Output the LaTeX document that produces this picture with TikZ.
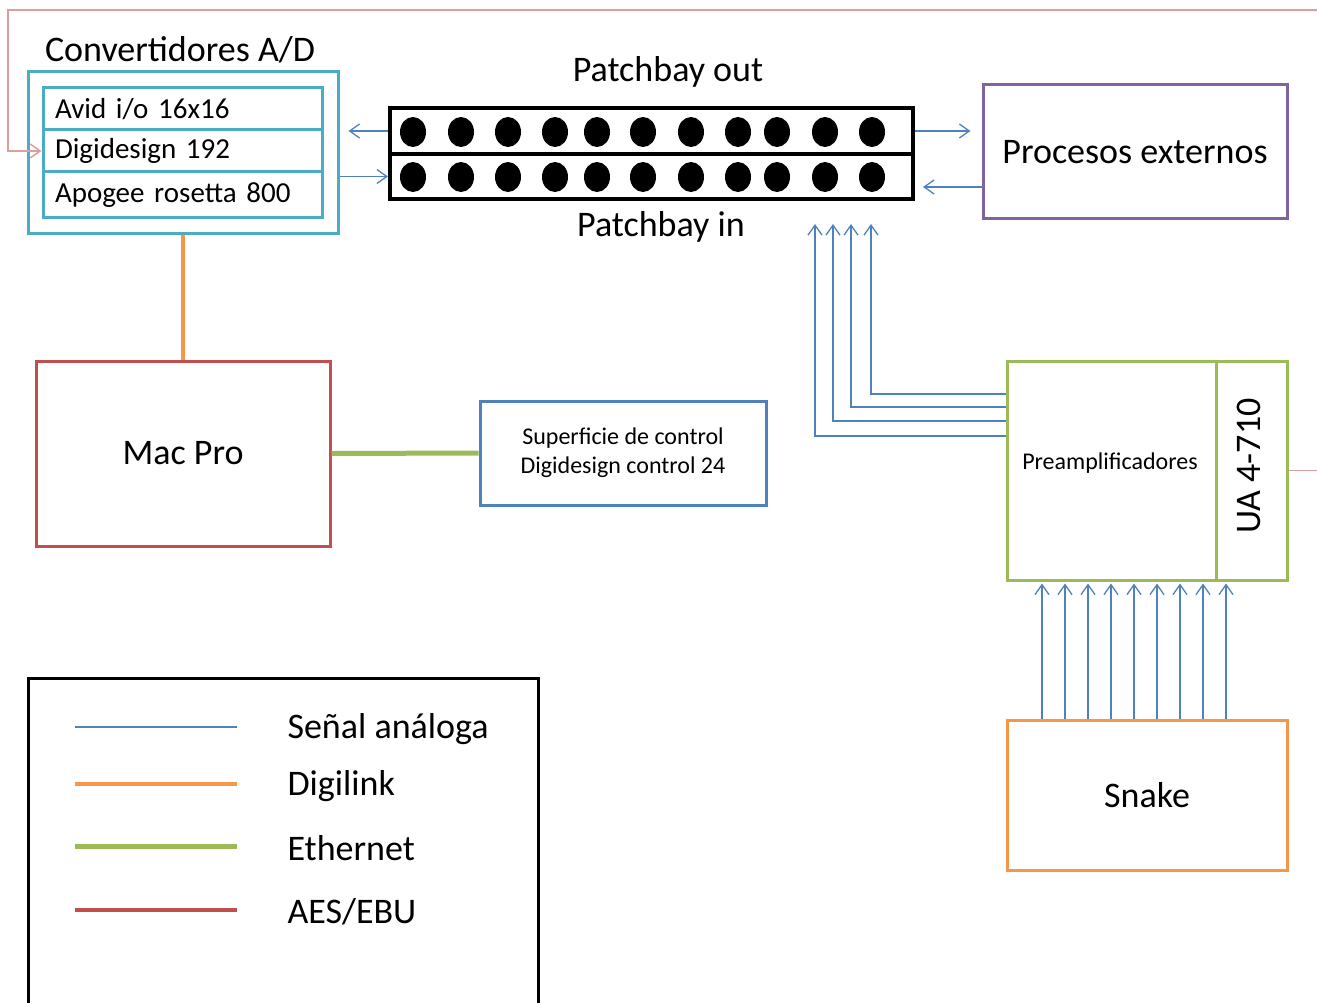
\documentclass[tikz,border=0pt]{standalone}
\usepackage{fontspec}
\setmainfont{Carlito}
\usetikzlibrary{arrows.meta, positioning, calc}
\definecolor{convCyan}{RGB}{75,172,198}
\definecolor{sigBlue}{RGB}{79,129,189}
\definecolor{procPurple}{RGB}{128,100,162}
\definecolor{macRed}{RGB}{192,80,77}
\definecolor{digiOrange}{RGB}{247,150,70}
\definecolor{etherGreen}{RGB}{155,187,89}
\tikzset{
    studio/.style={x=1pt, y=-1pt, >={Straight Barb[length=10pt,width=14pt]},
                   line join=miter},
    bigtext/.style={font=\fontsize{36pt}{40pt}\selectfont},
    rowtext/.style={font=\fontsize{29pt}{33pt}\selectfont},
    smalltext/.style={font=\fontsize{24pt}{29pt}\selectfont},
    unit/.style={rectangle, line width=3pt, fill=white, align=center, bigtext},
    devrow/.style={draw=convCyan, line width=3pt, minimum width=279pt,
                   text width=255pt, inner xsep=12pt, align=left, rowtext},
    patchrow/.style={draw=black, line width=4pt, minimum width=523pt},
    signal/.style={->, draw=sigBlue, line width=1.3pt},
    digilink/.style={draw=digiOrange, line width=4pt},
    ethernet/.style={draw=etherGreen, line width=5pt},
    aesebu/.style={draw=macRed, line width=4pt},
    aesthin/.style={->, draw=macRed!55, line width=1.5pt},
    legendbox/.style={draw=black, line width=3pt},
}

\begin{document}
\begin{tikzpicture}[studio]
\useasboundingbox (0,0) rectangle (1317,1003);

% ─── Convertidores ──────────────────────────────────────────────────────
\node[bigtext] (convlbl) at (180,50) {Convertidores A/D};
\node[unit, draw=convCyan, minimum width=310pt, minimum height=162pt] (conv) at (183,153) {};
\node[devrow, minimum height=42pt] (avid) at (182.5,109) {Avid i/o 16x16};
\node[devrow, minimum height=42pt] (dig)  at (182.5,151) {Digidesign 192};
\node[devrow, minimum height=46pt] (apo)  at (182.5,195) {Apogee rosetta 800};

% ─── Patchbay ───────────────────────────────────────────────────────────
\node[patchrow, minimum height=46pt] (pbout) at (651.5,131) {};
\node[patchrow, minimum height=45pt] (pbin)  at (651.5,176.5) {};
\foreach \px in {413,461,508,555,597,643,691,738,777,825,872} {
    \fill (\px,132) ellipse [x radius=13pt, y radius=15pt];
    \fill (\px,177) ellipse [x radius=13pt, y radius=15pt];
}
\node[bigtext] (pboutlbl) at (668,72)  {Patchbay out};
\node[bigtext] (pbinlbl)  at (661,227) {Patchbay in};

\node[unit, draw=procPurple, minimum width=304pt, minimum height=134pt] (proc) at (1135,152) {Procesos externos};
\coordinate (procin) at ([yshift=-35pt]proc.west);

\draw[signal, shorten >=9pt] (pbout.west) -- (conv.east |- pbout.west);
\draw[signal] (conv.east |- pbin.west) -- (pbin.west);
\draw[signal, shorten >=11pt] (pbout.east) -- (proc.west |- pbout.east);
\draw[signal, shorten >=8pt] (procin) -- (pbin.east |- procin);

% ─── Mac Pro y superficie ───────────────────────────────────────────────
\node[unit, draw=macRed, minimum width=294pt, minimum height=185pt] (mac) at (183,453.5) {Mac Pro};
\node[unit, draw=sigBlue, smalltext, minimum width=286pt, minimum height=104pt] (surf) at (623,453)
    {Superficie de control\\Digidesign control 24};

\draw[digilink] (conv.south) -- (mac.north);
\draw[ethernet] (mac.east) -- (surf.west);

% ─── Preamplificadores ──────────────────────────────────────────────────
\node[unit, draw=etherGreen, minimum width=280pt, minimum height=219pt] (rack) at (1147,470.5) {};
\draw[draw=etherGreen, line width=3pt] ([xshift=-72pt]rack.north east) -- ([xshift=-72pt]rack.south east);
\node[smalltext] (pre) at (1110,463) {Preamplificadores};
\node[bigtext, rotate=90] (ua) at (1249,466) {UA 4-710};

\foreach \dy/\dx in {76.5/219.5, 63.5/199.5, 49.5/181.5, 34.5/163.5}
    \draw[signal, shorten >=23pt] ([yshift=\dy pt]rack.west) -| ([xshift=\dx pt]pbin.south);

% ─── Snake ──────────────────────────────────────────────────────────────
\node[unit, draw=digiOrange, minimum width=280pt, minimum height=150pt] (snake) at (1147,795) {Snake};

\foreach \i in {0,...,8}
    \draw[signal, shorten >=2pt] ([xshift=-105pt+\i*23pt]snake.north) -- ([xshift=-105pt+\i*23pt]rack.south);

% ─── Linea AES/EBU ──────────────────────────────────────────────────────
\coordinate (aesR) at (1320,10);
\coordinate (aesL) at (8,10);
\draw[aesthin] (rack.east) -| (aesR) -- (aesL) |- (dig.west);

% ─── Leyenda ────────────────────────────────────────────────────────────
\node[legendbox, minimum width=510pt, minimum height=334pt] (legend) at (283,845) {};
\node[bigtext, anchor=west] (lsig)  at (284,729) {Señal análoga};
\node[bigtext, anchor=west] (ldigi) at (284,786) {Digilink};
\node[bigtext, anchor=west] (leth)  at (284,848) {Ethernet};
\node[bigtext, anchor=west] (laes)  at (284,912) {AES/EBU};
\draw[draw=sigBlue, line width=1.3pt] ([xshift=-209pt,yshift=2pt]lsig.west) -- ([xshift=-47pt,yshift=2pt]lsig.west);
\draw[digilink] ([xshift=-209pt,yshift=2pt]ldigi.west) -- ([xshift=-47pt,yshift=2pt]ldigi.west);
\draw[ethernet] ([xshift=-209pt,yshift=2pt]leth.west) -- ([xshift=-47pt,yshift=2pt]leth.west);
\draw[aesebu] ([xshift=-209pt,yshift=2pt]laes.west) -- ([xshift=-47pt,yshift=2pt]laes.west);

\end{tikzpicture}
\end{document}
